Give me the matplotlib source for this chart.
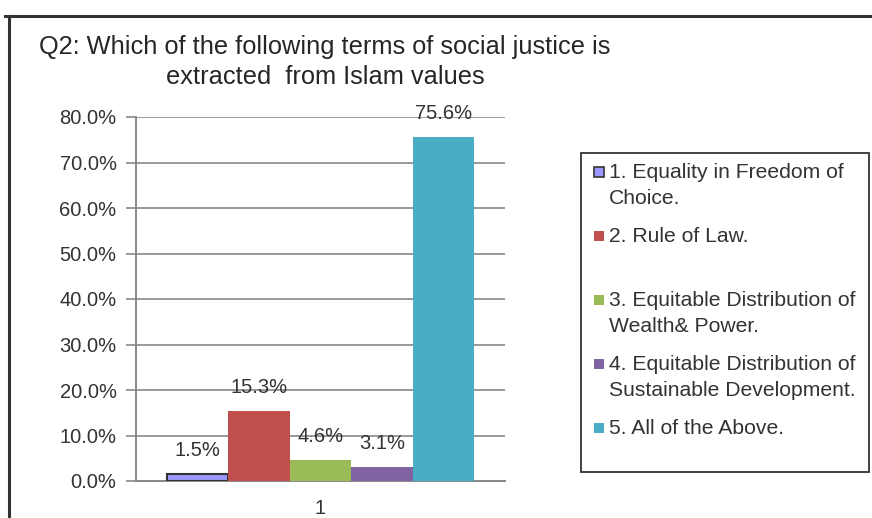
import matplotlib
matplotlib.use('Agg')
import matplotlib.pyplot as plt
from matplotlib.patches import Rectangle
from matplotlib.lines import Line2D
from matplotlib.ticker import FuncFormatter

plt.rcParams['font.family'] = ['Liberation Sans', 'DejaVu Sans']

title = 'Q2: Which of the following terms of social justice is\nextracted  from Islam values'
labels = ['1. Equality in Freedom of\nChoice.',
          '2. Rule of Law.',
          '3. Equitable Distribution of\nWealth& Power.',
          '4. Equitable Distribution of\nSustainable Development.',
          '5. All of the Above.']
values = [1.5, 15.3, 4.6, 3.1, 75.6]
colors = ['#9999FF', '#C0504D', '#9BBB59', '#8064A2', '#4BACC6']
category = '1'

W, H = 872, 518
fig = plt.figure(figsize=(W / 100, H / 100), dpi=100)

# outer chart frame (cut off at right and bottom)
fig.add_artist(Line2D([9 / W, 9 / W], [0, 1 - 16 / H], color='#333333', lw=2.2))
fig.add_artist(Line2D([5 / W, 1], [1 - 16 / H, 1 - 16 / H], color='#333333', lw=2.2))

fig.text(325 / W, 1 - 62 / H, title, ha='center', va='center', fontsize=18.3,
         color='#262626', linespacing=1.3)

ax = fig.add_axes([136 / W, 1 - 481 / H, (505 - 136) / W, (481 - 117) / H])

n = len(values)
bw = 1.0
x0 = -(n - 1) / 2 * bw
for i, (v, c) in enumerate(zip(values, colors)):
    x = x0 + i * bw
    ec = '#333333' if i == 0 else c
    lw = 1.5 if i == 0 else 0
    ax.bar(x, v, width=bw, color=c, edgecolor=ec, linewidth=lw, zorder=3)
    ax.annotate('%.1f%%' % v, (x, v), xytext=(0, 17), textcoords='offset points',
                ha='center', va='center', fontsize=14.5, color='#333333', zorder=4)

pad = (505 - 474) / ((474 - 167) / n)
ax.set_xlim(x0 - bw / 2 - pad, -x0 + bw / 2 + pad)
ax.set_ylim(0, 80)
ax.set_yticks(range(0, 81, 10))
ax.yaxis.set_major_formatter(FuncFormatter(lambda v, p: '%.1f%%' % v))
ax.set_xticks([0])
ax.set_xticklabels([category])
ax.tick_params(axis='x', length=0, pad=13, labelsize=14.5, labelcolor='#333333')
ax.tick_params(axis='y', length=7, width=1.2, color='#888888', pad=7,
               labelsize=14.5, labelcolor='#333333')
ax.grid(axis='y', color='#888888', lw=1.2, zorder=0)
for s in ['top', 'right']:
    ax.spines[s].set_visible(False)
for s in ['left', 'bottom']:
    ax.spines[s].set_color('#888888')
    ax.spines[s].set_linewidth(1.4)

# legend box with evenly spaced entries
fig.add_artist(Rectangle((581 / W, 1 - 472 / H), (869 - 581) / W, (472 - 153) / H,
                         transform=fig.transFigure, fill=False, edgecolor='#333333', lw=1.3))
for i, (lab, c) in enumerate(zip(labels, colors)):
    yc = 172 + i * 64
    ec = '#333333' if i == 0 else c
    fig.add_artist(Rectangle((594 / W, 1 - (yc + 5) / H), 10 / W, 10 / H,
                             transform=fig.transFigure, facecolor=c, edgecolor=ec,
                             lw=1.2 if i == 0 else 0))
    for j, line in enumerate(lab.split('\n')):
        fig.text(609 / W, 1 - (yc + 6 + j * 26) / H, line, ha='left', va='baseline',
                 fontsize=15.2, color='#333333')

fig.savefig('out.png', dpi=100)
